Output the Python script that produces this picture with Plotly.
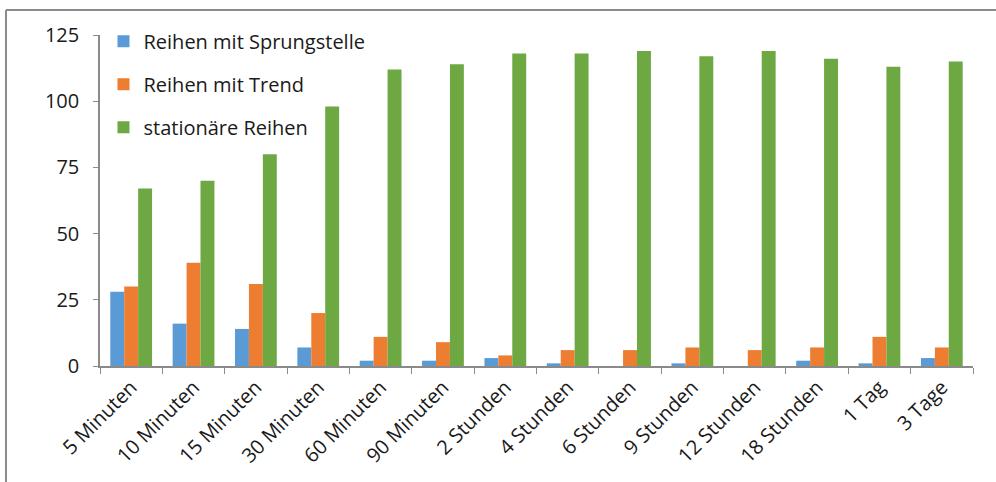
import plotly.graph_objects as go

# Aggregation intervals (x categories)
intervalle = ["5 Minuten", "10 Minuten", "15 Minuten", "30 Minuten", "60 Minuten",
              "90 Minuten", "2 Stunden", "4 Stunden", "6 Stunden", "9 Stunden",
              "12 Stunden", "18 Stunden", "1 Tag", "3 Tage"]

# Number of series per class
sprungstelle = [28, 16, 14, 7, 2, 2, 3, 1, 0, 1, 0, 2, 1, 3]
trend = [30, 39, 31, 20, 11, 9, 4, 6, 6, 7, 6, 7, 11, 7]
stationaer = [67, 70, 80, 98, 112, 114, 118, 118, 119, 117, 119, 116, 113, 115]

y_ticks = [0, 25, 50, 75, 100, 125]

serien = [
    ("Reihen mit Sprungstelle", sprungstelle, "#5B9BD5"),
    ("Reihen mit Trend", trend, "#ED7D31"),
    ("stationäre Reihen", stationaer, "#6DA842"),
]

FONT = "Open Sans"
FS = 20

fig = go.Figure()
for i, (name, werte, farbe) in enumerate(serien):
    fig.add_trace(go.Bar(
        x=intervalle, y=werte, name=name, legendgroup=f"g{i}",
        marker=dict(color=farbe, line=dict(width=0)),
    ))

fig.update_layout(
    width=996, height=482,
    margin=dict(l=100, r=23, t=35, b=116),
    paper_bgcolor="white", plot_bgcolor="white",
    barmode="group", bargap=0.33, bargroupgap=0,
    font=dict(family=FONT, size=FS, color="#1a1a1a"),
    showlegend=True,
    legend=dict(
        x=0.004, y=1.04, xanchor="left", yanchor="top",
        bgcolor="rgba(0,0,0,0)", traceorder="grouped", tracegroupgap=14,
        font=dict(family=FONT, size=FS, color="#1a1a1a"),
    ),
    xaxis=dict(
        type="category", showline=True, linecolor="#8a8a8a", linewidth=1.5,
        ticks="outside", tickson="boundaries", ticklen=6, tickcolor="#8a8a8a",
        tickangle=-45, showgrid=False, zeroline=False,
        tickfont=dict(family=FONT, size=FS, color="#1a1a1a"),
    ),
    yaxis=dict(
        range=[0, 125], tickvals=y_ticks, showline=True, linecolor="#8a8a8a",
        linewidth=1.5, ticks="outside", ticklen=5, tickcolor="#8a8a8a",
        showgrid=False, zeroline=False, ticklabelstandoff=10,
        tickfont=dict(family=FONT, size=FS, color="#1a1a1a"),
    ),
    shapes=[
        # outer chart frame (top and left edges)
        dict(type="line", xref="paper", yref="paper",
             x0=(6 - 100) / 873, x1=(996 - 100) / 873,
             y0=(366 - 10) / 331, y1=(366 - 10) / 331,
             line=dict(color="#8c8c8c", width=2)),
        dict(type="line", xref="paper", yref="paper",
             x0=(6 - 100) / 873, x1=(6 - 100) / 873,
             y0=(366 - 10) / 331, y1=(366 - 482) / 331,
             line=dict(color="#8c8c8c", width=2)),
    ],
)

fig.write_html("out.html")
